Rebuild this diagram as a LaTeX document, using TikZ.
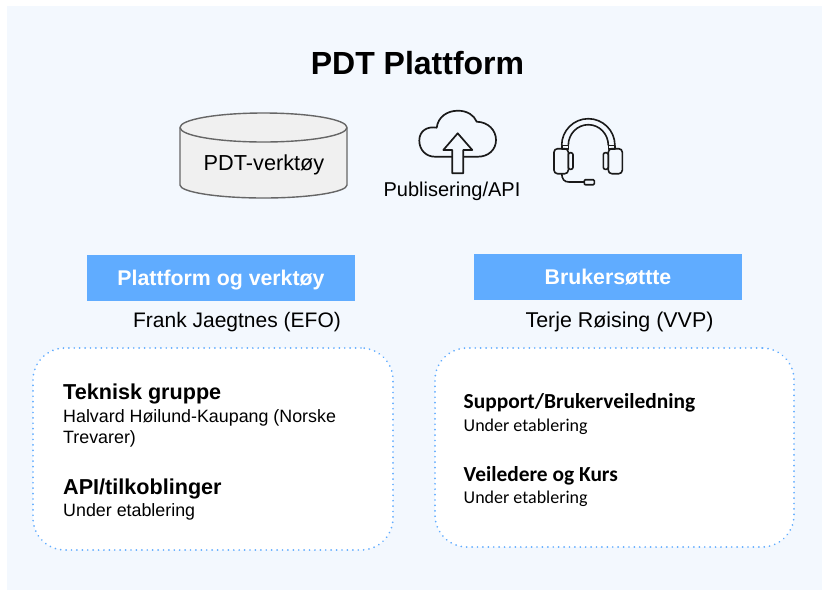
\documentclass[tikz,border=0pt]{standalone}
\usepackage{fontspec}
\setmainfont{Liberation Sans}
\newfontfamily\carlito{Carlito}
\usepackage{xcolor}
\definecolor{panelblue}{HTML}{F3F8FE}
\definecolor{headblue}{HTML}{60ACFF}
\definecolor{iconink}{HTML}{1A1A1A}
\tikzset{
  every node/.style={inner sep=0pt},
  headbox/.style={fill=headblue,text=white,font=\fontsize{21.3}{25}\selectfont\bfseries,minimum width=268pt,minimum height=46pt,text height=18pt,text depth=2.6pt},
  groupbox/.style={draw=headblue,fill=white,line width=1.9pt,line cap=round,dash pattern=on 0.01pt off 5.4pt,rounded corners=32pt,minimum height=202pt},
  person/.style={anchor=base,font=\fontsize{21}{25}\selectfont},
  grouphead/.style={anchor=base west,font=\fontsize{21.6}{25}\selectfont\bfseries},
  groupline/.style={anchor=base west,font=\fontsize{17.85}{21}\selectfont},
  calihead/.style={anchor=base west,font=\carlito\fontsize{21.4}{24}\selectfont\bfseries},
  caliline/.style={anchor=base west,font=\carlito\fontsize{18}{21}\selectfont},
  icon/.style={draw=iconink,line width=1.7pt,line join=round},
  headset/.style={icon,line width=1.6pt},
}
\begin{document}
\begin{tikzpicture}[x=1pt,y=-1pt]
\useasboundingbox (0,0) rectangle (827,590);
\fill [panelblue] (7,6) rectangle (822,590);
\node[anchor=base,font=\fontsize{32}{38}\selectfont\bfseries] (title) at (417.5,74) {PDT Plattform};
% verktoy cylinder
\draw [draw=black!60,fill=black!6,line width=1.4pt] (180,127.5) -- (180,185) .. controls (180,192) and (217,198) .. (263.5,198) .. controls (310,198) and (347,192) .. (347,185) -- (347,127.5) .. controls (347,119.5) and (310,113) .. (263.5,113) .. controls (217,113) and (180,119.5) .. (180,127.5) -- cycle;
\draw [draw=black!60,line width=1.4pt] (180,127.5) .. controls (180,135.5) and (217,142) .. (263.5,142) .. controls (310,142) and (347,135.5) .. (347,127.5);
\node[anchor=base,font=\fontsize{21.7}{25}\selectfont] (verktoy) at (264,170.5) {PDT-verktøy};
% cloud
\draw [icon] (452.3,156.7) -- (435,156.7) .. controls (426,156.7) and (419.3,150) .. (419.3,140.5) .. controls (419.3,131) and (427,126) .. (436.7,127.7) .. controls (438,117) and (447,110.7) .. (458,110.7) .. controls (467,110.7) and (474,115) .. (476.7,121.7) .. controls (488,122) and (496,130) .. (496,140) .. controls (496,150) and (488,156.7) .. (478,156.7) -- (463.3,156.7);
\draw [icon] (457.7,133.3) -- (472.3,150) -- (463.3,150) -- (463.3,173.3) -- (452.3,173.3) -- (452.3,150) -- (443.3,150) -- cycle;
\node[anchor=base,font=\fontsize{20}{24}\selectfont] (publisering) at (452,196) {Publisering/API};
% headset
\draw [headset] (561.7,145.3) arc (180:360:26.6 and 26.6);
\draw [headset] (568.3,145.3) arc (180:360:20 and 20.6);
\draw [headset] (561.7,145.3) rectangle (568.3,148.7);
\draw [headset] (608.3,145.3) rectangle (615,148.7);
\foreach \i/\j in {554/568.3,608.3/622.3}
{	\draw [headset,rounded corners=3.5pt] (\i,148.7) rectangle (\j,173.7);
}
\foreach \i/\j in {568.3/573,603.3/608.3}
{	\draw [headset,rounded corners=2pt] (\i,152.7) rectangle (\j,169.3);
}
\draw [headset] (561.7,173.7) .. controls (562,179) and (564,182) .. (569,182) -- (584.3,182);
\draw [headset,rounded corners=1pt] (584.3,179.7) rectangle (594.3,184.7);
% headers
\node[headbox] (plattform) at (221,278) {Plattform og verktøy};
\node[headbox] (bruker) at (608,277) {Brukersøttte};
\node[person] (frank) at (237,327) {Frank Jaegtnes (EFO)};
\node[person,font=\fontsize{21.4}{25}\selectfont] (terje) at (619.5,327) {Terje Røising (VVP)};
% groups
\node[groupbox,minimum width=360pt] (leftbox) at (213,449) {};
\node[groupbox,minimum width=359pt,minimum height=199pt] (rightbox) at (614.5,447.5) {};
\node[grouphead] (teknisk) at (63,399) {Teknisk gruppe};
\node[groupline] (halvard) at (63,422) {Halvard Høilund-Kaupang (Norske};
\node[groupline] (trevarer) at (63,443) {Trevarer)};
\node[grouphead] (api) at (63,494) {API/tilkoblinger};
\node[groupline] (apiline) at (63,516) {Under etablering};
\node[calihead] (support) at (463.5,408) {Support/Brukerveiledning};
\node[caliline] (supportline) at (463.5,431) {Under etablering};
\node[calihead] (veiledere) at (463.5,481.5) {Veiledere og Kurs};
\node[caliline] (veilederline) at (463.5,503) {Under etablering};
\end{tikzpicture}
\end{document}
